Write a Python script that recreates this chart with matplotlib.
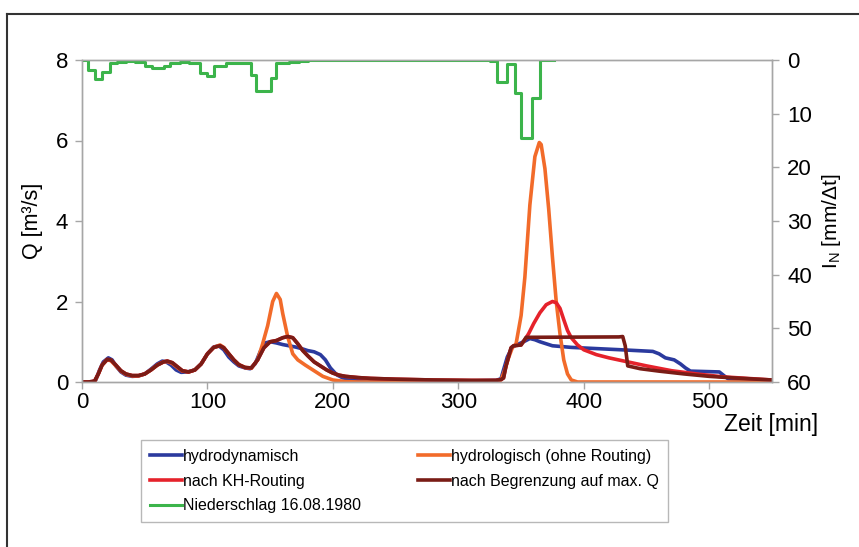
import matplotlib
matplotlib.use("Agg")
import matplotlib.pyplot as plt
from matplotlib.lines import Line2D

plt.rcParams['font.family'] = ['Liberation Sans', 'DejaVu Sans']
plt.rcParams['mathtext.fontset'] = 'custom'
plt.rcParams['mathtext.rm'] = 'Liberation Sans'

# hydrodynamisch
t_blue = [0, 8, 11, 14, 17, 21, 24, 27, 31, 35, 40, 45, 50, 55, 60, 64, 67, 71, 75, 79, 84, 90, 95, 100,
          105, 109, 113, 117, 121, 125, 130, 134, 138, 142, 146, 150, 155, 160, 165, 170, 175, 180, 185,
          190, 194, 198, 203, 208, 215, 225, 240, 270, 300, 330, 334, 336, 339, 343, 347, 352, 357, 361,
          365, 370, 375, 390, 410, 430, 455, 460, 465, 472, 477, 481, 485, 508, 512, 515, 530, 550]
q_blue = [0, 0, 0.05, 0.3, 0.5, 0.6, 0.55, 0.4, 0.25, 0.17, 0.14, 0.15, 0.2, 0.32, 0.45, 0.52, 0.5, 0.42,
          0.3, 0.24, 0.25, 0.3, 0.45, 0.7, 0.87, 0.9, 0.8, 0.62, 0.5, 0.4, 0.35, 0.33, 0.45, 0.75, 0.97,
          1.0, 0.97, 0.93, 0.9, 0.87, 0.83, 0.78, 0.75, 0.68, 0.55, 0.35, 0.18, 0.1, 0.07, 0.06, 0.05,
          0.03, 0.02, 0.04, 0.08, 0.3, 0.62, 0.87, 0.93, 1.0, 1.08, 1.05, 1.0, 0.95, 0.9, 0.86, 0.83,
          0.8, 0.76, 0.7, 0.6, 0.55, 0.45, 0.35, 0.27, 0.25, 0.15, 0.08, 0.06, 0.04]

# hydrologisch (ohne Routing)
t_orange = [0, 10, 13, 16, 20, 23, 27, 31, 35, 40, 45, 50, 55, 60, 65, 68, 72, 76, 80, 85, 90, 95, 100,
            105, 110, 113, 117, 121, 125, 130, 135, 140, 144, 148, 152, 155, 158, 160, 164, 168, 172,
            178, 185, 192, 200, 210, 220, 330, 334, 337, 340, 343, 346, 350, 353, 357, 361, 364.5, 366,
            369, 372, 375, 378, 381, 384, 387, 390, 395, 550]
q_orange = [0, 0, 0.2, 0.42, 0.55, 0.53, 0.4, 0.27, 0.19, 0.15, 0.15, 0.2, 0.3, 0.42, 0.5, 0.51, 0.46,
            0.36, 0.27, 0.25, 0.3, 0.45, 0.7, 0.86, 0.92, 0.86, 0.7, 0.55, 0.43, 0.36, 0.34, 0.55, 0.95,
            1.4, 2.0, 2.2, 2.05, 1.7, 1.12, 0.7, 0.55, 0.42, 0.28, 0.14, 0.05, 0.01, 0, 0, 0.05, 0.3,
            0.6, 0.85, 0.95, 1.65, 2.6, 4.4, 5.6, 5.95, 5.9, 5.3, 4.3, 3.1, 2.0, 1.2, 0.55, 0.2, 0.05, 0, 0]

# nach Begrenzung auf max. Q
t_dred = [0, 5, 10, 13, 16, 20, 23, 27, 31, 35, 40, 45, 50, 55, 60, 65, 68, 72, 76, 80, 85, 90, 95, 100,
          105, 110, 113, 117, 121, 125, 130, 135, 140, 145, 150, 155, 160, 164, 168, 172, 176, 180, 185,
          190, 195, 200, 205, 210, 220, 230, 250, 280, 310, 330, 334, 336, 338, 342, 344, 350, 354, 428,
          431, 433, 435, 445, 460, 480, 500, 520, 550]
q_dred = [0, 0, 0.02, 0.2, 0.42, 0.56, 0.55, 0.42, 0.28, 0.2, 0.16, 0.16, 0.2, 0.3, 0.42, 0.5, 0.52,
          0.48, 0.38, 0.28, 0.25, 0.3, 0.45, 0.7, 0.86, 0.9, 0.85, 0.7, 0.55, 0.43, 0.36, 0.35, 0.55,
          0.85, 1.0, 1.03, 1.1, 1.13, 1.1, 0.95, 0.78, 0.65, 0.5, 0.4, 0.3, 0.22, 0.17, 0.14, 0.11,
          0.09, 0.07, 0.05, 0.04, 0.04, 0.06, 0.1, 0.4, 0.85, 0.9, 0.92, 1.11, 1.12, 1.13, 0.9, 0.4,
          0.33, 0.27, 0.2, 0.14, 0.1, 0.05]

# nach KH-Routing (erstes Ereignis wie Begrenzung)
t_red = t_dred[:60] + [354, 356, 360, 365, 370, 375, 378, 381, 384, 387, 390, 395, 400, 410, 420, 435,
                       450, 470, 490, 510, 530, 550]
q_red = q_dred[:60] + [1.1, 1.2, 1.45, 1.72, 1.92, 2.0, 1.97, 1.83, 1.55, 1.28, 1.1, 0.92, 0.8, 0.68,
                       0.6, 0.5, 0.4, 0.28, 0.2, 0.13, 0.09, 0.05]

# Niederschlag [mm/dt]
t_rain = [0, 5, 10, 16, 22, 28, 35, 42, 50, 56, 65, 70, 78, 85, 94, 100, 105, 115, 125, 135, 139, 151,
          155, 165, 173, 180, 325, 331, 339, 345, 350, 359, 365, 376]
p_rain = [0, 1.9, 3.6, 2.2, 0.6, 0.3, 0.2, 0.3, 1.1, 1.55, 1.1, 0.6, 0.3, 0.5, 2.5, 3.0, 1.1, 0.6, 0.6,
          2.8, 5.8, 3.4, 0.6, 0.4, 0.2, 0.0, 0.1, 4.1, 0.7, 6.1, 14.6, 7.1, 0.0, 0.0]

c_blue = '#2b3a9e'
c_orange = '#f26b2a'
c_red = '#e5222b'
c_dred = '#7a1c16'
c_green = '#3cb44b'
c_axis = '#a6a6a6'

fig = plt.figure(figsize=(8.59, 5.47), dpi=100)
ax = fig.add_axes([82/859, 1-382/547, 690/859, 322/547])
ax2 = ax.twinx()

l_blue, = ax.plot(t_blue, q_blue, color=c_blue, lw=2.6)
l_orange, = ax.plot(t_orange, q_orange, color=c_orange, lw=2.6)
l_red, = ax.plot(t_red, q_red, color=c_red, lw=2.6)
l_dred, = ax.plot(t_dred, q_dred, color=c_dred, lw=2.6)
l_green, = ax2.plot(t_rain, p_rain, color=c_green, lw=2.2, drawstyle='steps-post')

ax.set_xlim(0, 550)
ax.set_ylim(0, 8)
ax2.set_ylim(60, 0)
ax.set_xticks([0, 100, 200, 300, 400, 500])
ax.set_yticks([0, 2, 4, 6, 8])
ax2.set_yticks([0, 10, 20, 30, 40, 50, 60])

for a in (ax, ax2):
    for s in a.spines.values():
        s.set_color(c_axis)
        s.set_linewidth(1.0)
    a.tick_params(colors=c_axis, labelcolor='black', labelsize=16, length=5, width=1)
ax.tick_params(axis='x', pad=2)
ax.tick_params(axis='y', pad=5)
ax2.tick_params(axis='y', pad=6)

ax.set_ylabel('Q [m³/s]', fontsize=15.5, labelpad=9)
ax2.set_ylabel(r'I$_\mathrm{N}$ [mm/Δt]', fontsize=15, labelpad=6)
fig.text(771/859, 1-425/547, 'Zeit [min]', fontsize=16.5, ha='center', va='center')

fig.legend([l_blue, l_red, l_green, l_orange, l_dred],
           ['hydrodynamisch', 'nach KH-Routing', 'Niederschlag 16.08.1980',
            'hydrologisch (ohne Routing)', 'nach Begrenzung auf max. Q'],
           ncol=2, loc='lower left', mode='expand',
           bbox_to_anchor=(141/859, 1-522/547, 527/859, 84/547),
           prop={'size': 11.5}, frameon=True, fancybox=False, edgecolor=c_axis,
           handlelength=2.0, handletextpad=0.1, labelspacing=0.6, borderpad=0.55,
           borderaxespad=0)

# Rahmen links und oben
fig.add_artist(Line2D([7/859, 7/859], [0, 1-14/547], color='#333333', lw=1.5, transform=fig.transFigure))
fig.add_artist(Line2D([7/859, 1], [1-14/547, 1-14/547], color='#333333', lw=1.5, transform=fig.transFigure))

fig.savefig('out.png', dpi=100)
